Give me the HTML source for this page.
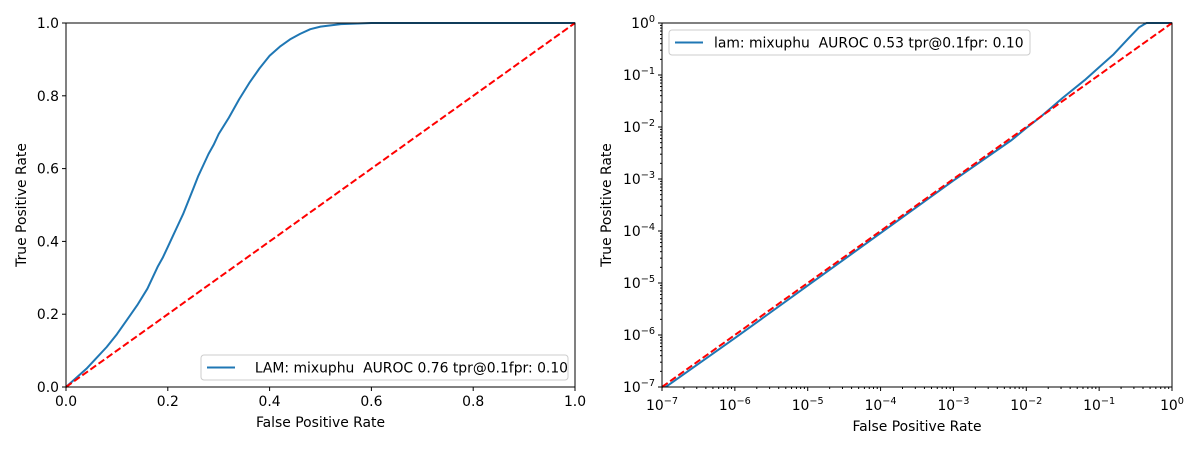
<!DOCTYPE html>
<html><head><meta charset="utf-8"><style>
body{margin:0;background:#fff;}
svg{display:block;font-family:"DejaVu Sans","Liberation Sans",sans-serif;}
text{white-space:pre;}
</style></head><body>
<svg id="fig" width="1200" height="450" viewBox="0 0 1200 450"></svg>
<script>
// Left panel data (linear ROC)
const leftFpr = [0,0.02,0.04,0.06,0.08,0.1,0.12,0.14,0.16,0.17,0.18,0.19,0.2,0.21,0.22,0.23,0.24,0.25,0.26,0.27,0.28,0.29,0.3,0.32,0.34,0.36,0.38,0.4,0.42,0.44,0.46,0.48,0.5,0.54,0.6,1];
const leftTpr = [0,0.025,0.05,0.08,0.11,0.145,0.185,0.225,0.27,0.3,0.33,0.355,0.385,0.415,0.445,0.475,0.51,0.545,0.58,0.61,0.64,0.665,0.695,0.74,0.79,0.835,0.875,0.91,0.935,0.955,0.97,0.983,0.99,0.997,1,1];
const leftTicks = [0,0.2,0.4,0.6,0.8,1.0];
const leftTickLabels = ["0.0","0.2","0.4","0.6","0.8","1.0"];
// Right panel data (log10 ROC)
const rightLogFpr = [-7,-6,-5,-4,-3,-2.2,-2,-1.8,-1.5,-1.2,-1,-0.8,-0.6,-0.45,-0.35,0];
const rightLogTpr = [-7.05,-6.06,-5.05,-4.04,-3.03,-2.25,-2.02,-1.8,-1.44,-1.1,-0.85,-0.6,-0.3,-0.08,0,0];
const rightTicks = [-7,-6,-5,-4,-3,-2,-1,0];
const rightTickExps = ["−7","−6","−5","−4","−3","−2","−1","0"];

const NS="http://www.w3.org/2000/svg";
const svg=document.getElementById('fig');
function mk(tag,attrs,parent,text){const e=document.createElementNS(NS,tag);for(const k in attrs)e.setAttribute(k,attrs[k]);if(text!==undefined)e.textContent=text;(parent||svg).appendChild(e);return e;}
const FS=13.9;
function panel(cfg){
  const g=mk('g',{});
  
  
  const {x0,x1,y0,y1}=cfg;
  const sx=v=>x0+(v-cfg.dmin)/(cfg.dmax-cfg.dmin)*(x1-x0);
  const sy=v=>y0-(v-cfg.dmin)/(cfg.dmax-cfg.dmin)*(y0-y1);
  const cx=cfg.xs.map(v=>Math.min(Math.max(v,cfg.dmin),cfg.dmax));
  let d=cx.map((v,i)=>(i?'L':'M')+sx(v).toFixed(1)+','+sy(Math.min(Math.max(cfg.ys[i],cfg.dmin-0.2),cfg.dmax)).toFixed(1)).join(' ');
  const clip=mk('clipPath',{id:cfg.name+'-clip'},g);
  mk('rect',{x:x0,y:y1-1,width:x1-x0,height:y0-y1+1},clip);
  const c=mk('path',{d:d,fill:'none',stroke:'#1f77b4','stroke-width':2,'stroke-linejoin':'round','clip-path':'url(#'+cfg.name+'-clip)'},g);
  
  
  const diag=mk('line',{x1:sx(cfg.dmin),y1:sy(cfg.dmin),x2:sx(cfg.dmax),y2:sy(cfg.dmax),stroke:'#ff0000','stroke-width':2,'stroke-dasharray':'7,3'},g);
  
  
  mk('rect',{x:x0,y:y1,width:x1-x0,height:y0-y1,fill:'none',stroke:'#000','stroke-width':1},g);
  cfg.ticks.forEach((t,i)=>{
    mk('line',{x1:sx(t),y1:y0,x2:sx(t),y2:y0+4,stroke:'#000'},g);
    mk('line',{x1:x0,y1:sy(t),x2:x0-4,y2:sy(t),stroke:'#000'},g);
    if(cfg.log){
      const tx=mk('text',{x:sx(t),y:y0+23,'font-size':FS,'text-anchor':'middle'},g,'10');
      mk('tspan',{dy:-6,'font-size':9.7},tx,cfg.labels[i]);
      const ty=mk('text',{x:x0-7,y:sy(t)+5,'font-size':FS,'text-anchor':'end'},g,'10');
      mk('tspan',{dy:-6,'font-size':9.7},ty,cfg.labels[i]);
    }else{
      mk('text',{x:sx(t),y:y0+19,'font-size':FS,'text-anchor':'middle'},g,cfg.labels[i]);
      mk('text',{x:x0-7,y:sy(t)+5,'font-size':FS,'text-anchor':'end'},g,cfg.labels[i]);
    }
  });
  if(cfg.log){
    for(let e=cfg.dmin;e<cfg.dmax;e++)for(let m=2;m<10;m++){const v=e+Math.log10(m);
      mk('line',{x1:sx(v),y1:y0,x2:sx(v),y2:y0+2,stroke:'#000'},g);
      mk('line',{x1:x0,y1:sy(v),x2:x0-2,y2:sy(v),stroke:'#000'},g);}
  }
  const xt=mk('text',{x:(x0+x1)/2,y:cfg.log?y0+44:y0+40,'font-size':FS,'text-anchor':'middle'},g,'False Positive Rate');
  
  const yx=cfg.log?x0-51:x0-40;
  const yt=mk('text',{x:yx,y:(y0+y1)/2,'font-size':FS,'text-anchor':'middle',transform:`rotate(-90 ${yx} ${(y0+y1)/2})`},g,'True Positive Rate');
  
  const L=cfg.legend;
  const lg=mk('g',{},g);
  
  
  mk('rect',{x:L.x,y:L.y,width:L.w,height:25,rx:3,fill:'#fff','fill-opacity':0.8,stroke:'#ccc'},lg);
  mk('line',{x1:L.x+6,y1:L.y+12.5,x2:L.x+34,y2:L.y+12.5,stroke:'#1f77b4','stroke-width':2},lg);
  mk('text',{x:L.x+45,y:L.y+17.5,'font-size':FS},lg,L.text);
}
panel({name:'linear-roc-panel',x0:66,x1:575,y0:387,y1:23,dmin:0,dmax:1,xs:leftFpr,ys:leftTpr,ticks:leftTicks,labels:leftTickLabels,log:false,
  legend:{x:201,y:355,w:367,text:'  LAM: mixuphu  AUROC 0.76 tpr@0.1fpr: 0.10'}});
panel({name:'log-roc-panel',x0:662,x1:1172,y0:387,y1:23,dmin:-7,dmax:0,xs:rightLogFpr,ys:rightLogTpr,ticks:rightTicks,labels:rightTickExps,log:true,
  legend:{x:669,y:30,w:361,text:'lam: mixuphu  AUROC 0.53 tpr@0.1fpr: 0.10'}});
</script>
</body></html>
